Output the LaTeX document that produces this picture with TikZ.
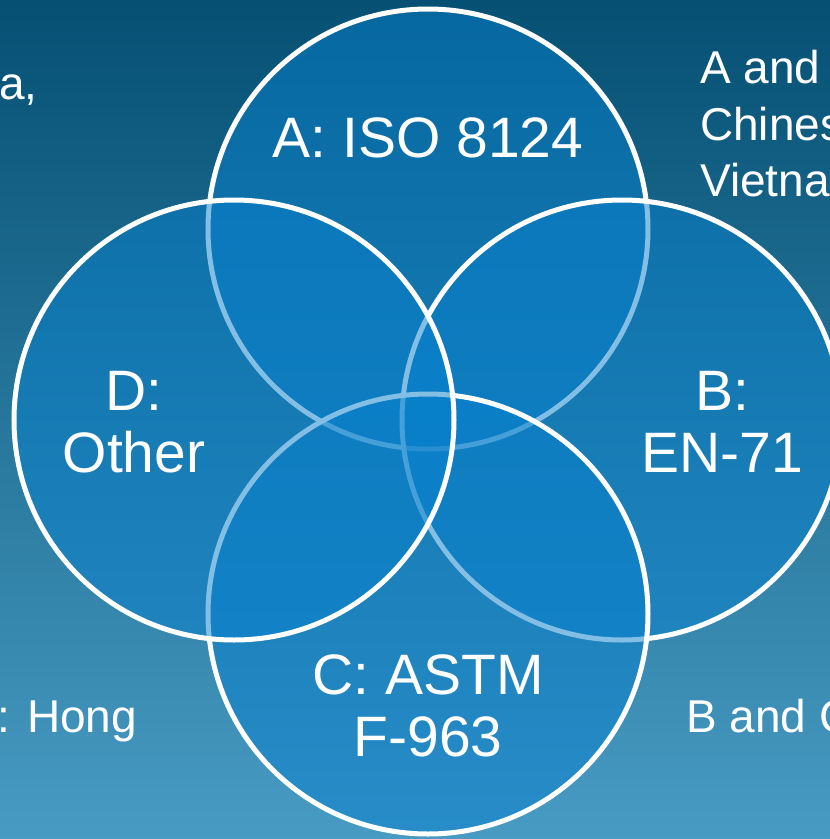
\documentclass[tikz,border=0pt]{standalone}
\usepackage{fontspec}
\setmainfont{Liberation Sans}
\definecolor{bgtop}{RGB}{5,80,115}
\definecolor{bgbottom}{RGB}{72,155,195}
\definecolor{setblue}{RGB}{8,128,205}
\tikzset{
  set/.style={circle,draw=white,line width=5pt,fill=setblue,fill opacity=0.5,
    minimum size=440pt,inner sep=0pt},
  setlabel/.style={text=white,font=\fontsize{57}{61.5}\selectfont,align=center,inner sep=0pt},
  note/.style={text=white,font=\fontsize{46}{56.5}\selectfont,align=left,inner sep=0pt}
}
\begin{document}
\begin{tikzpicture}[x=1pt,y=-1pt]
\useasboundingbox (0,0) rectangle (830,839);
\clip (0,0) rectangle (830,839);
\shade[top color=bgtop,bottom color=bgbottom] (0,0) rectangle (830,839);
% the four sets
\node[set] (iso) at (428,229) {};
\node[set] (en) at (622,420) {};
\node[set] (astm) at (428,614) {};
\node[set] (other) at (234,420) {};
% set labels
\node[setlabel,anchor=base] (isolabel) at (428,157) {A: ISO 8124};
\node[setlabel] (enlabel) at (722,422) {B:\\EN-71};
\node[setlabel] (astmlabel) at (428,706) {C: ASTM\\F-963};
\node[setlabel] (otherlabel) at (134,422) {D:\\Other};
% notes round the edge
\node[note,anchor=base west] (leftnote) at (-1,99) {a,};
\node[note,anchor=north west] (acnote) at (700,50) {A and\\Chinese\\Vietnam};
\node[note,anchor=base west] (hongnote) at (-3,732) {: Hong};
\node[note,anchor=base west] (bcnote) at (686,732) {B and C};
\end{tikzpicture}
\end{document}
